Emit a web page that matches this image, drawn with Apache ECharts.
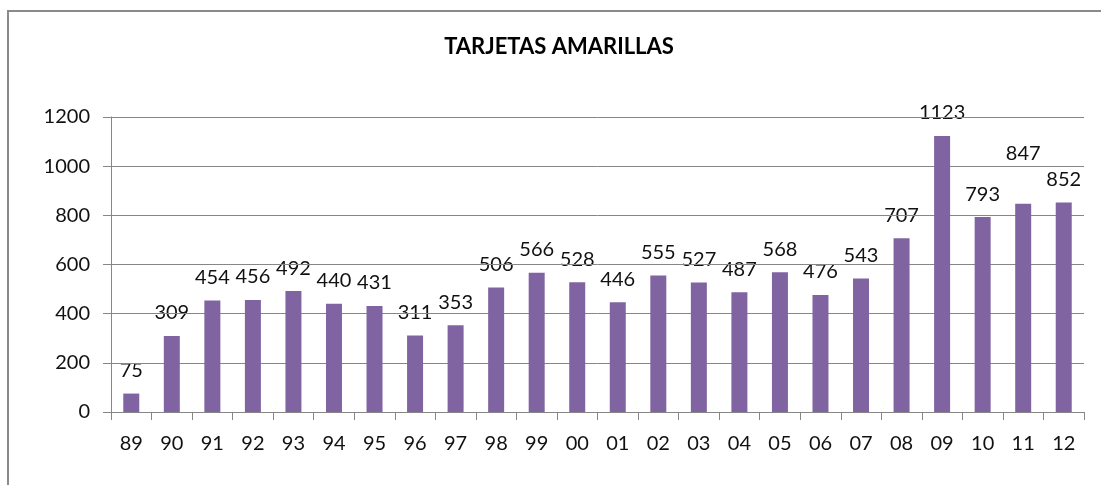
<!DOCTYPE html>
<html>
<head>
<meta charset="utf-8">
<script src="https://cdn.jsdelivr.net/npm/echarts@6/dist/echarts.min.js"></script>
<style>html,body{margin:0;padding:0;background:#fff;}#c{width:1101px;height:485px;}</style>
</head>
<body>
<div id="c"></div>
<script>
const titleText = 'TARJETAS AMARILLAS';
const categories = ['89','90','91','92','93','94','95','96','97','98','99','00','01','02','03','04','05','06','07','08','09','10','11','12'];
const values = [75,309,454,456,492,440,431,311,353,506,566,528,446,555,527,487,568,476,543,707,1123,793,847,852];
const yTicks = [0,200,400,600,800,1000,1200];

const FONT = 'Lato';
const chart = echarts.init(document.getElementById('c'), null, {renderer:'canvas'});
const labelData = values.map((v, i) => {
  if (categories[i] === '11') return {value: v, label: {offset: [0, -27]}};
  return v;
});
chart.setOption({
  backgroundColor: '#fff',
  animation: false,
  title: {
    text: titleText, left: 559, top: 36, padding: 0, textAlign: 'center',
    textStyle: {fontFamily: FONT, fontSize: 22, fontWeight: 'bold', color: '#000'}
  },
  graphic: [{
    type: 'rect', shape: {x: 8, y: 11, width: 1200, height: 600},
    style: {fill: null, stroke: '#8a8a8a', lineWidth: 2}, silent: true, z: 100
  }],
  grid: {left: 111, right: 17, top: 117, bottom: 73, containLabel: false},
  xAxis: {
    type: 'category', data: categories, boundaryGap: true, z: 2,
    axisLine: {lineStyle: {color: '#868686', width: 1}},
    axisTick: {show: true, inside: false, length: 8, alignWithLabel: false, lineStyle: {color: '#868686'}},
    axisLabel: {margin: 22, fontFamily: FONT, fontSize: 20, color: '#111', interval: 0}
  },
  yAxis: {
    type: 'value', min: yTicks[0], max: yTicks[yTicks.length-1], interval: yTicks[1]-yTicks[0], z: 2,
    axisLine: {show: true, lineStyle: {color: '#868686'}},
    axisTick: {show: true, length: 8, lineStyle: {color: '#868686'}},
    splitLine: {show: true, lineStyle: {color: '#868686', width: 1}},
    axisLabel: {margin: 21, fontFamily: FONT, fontSize: 20, color: '#111', formatter: v => String(v)}
  },
  series: [{
    type: 'bar', data: labelData, barWidth: 16, z: 1,
    itemStyle: {color: 'rgba(0,0,0,0)'},
    label: {show: true, position: 'top', distance: 13, fontFamily: FONT, fontSize: 20, color: '#111'}
  }, {
    type: 'bar', data: values, barWidth: 16, barGap: '-100%', z: 3,
    itemStyle: {color: '#8064A2'},
    label: {show: false}
  }]
});
</script>
</body>
</html>
